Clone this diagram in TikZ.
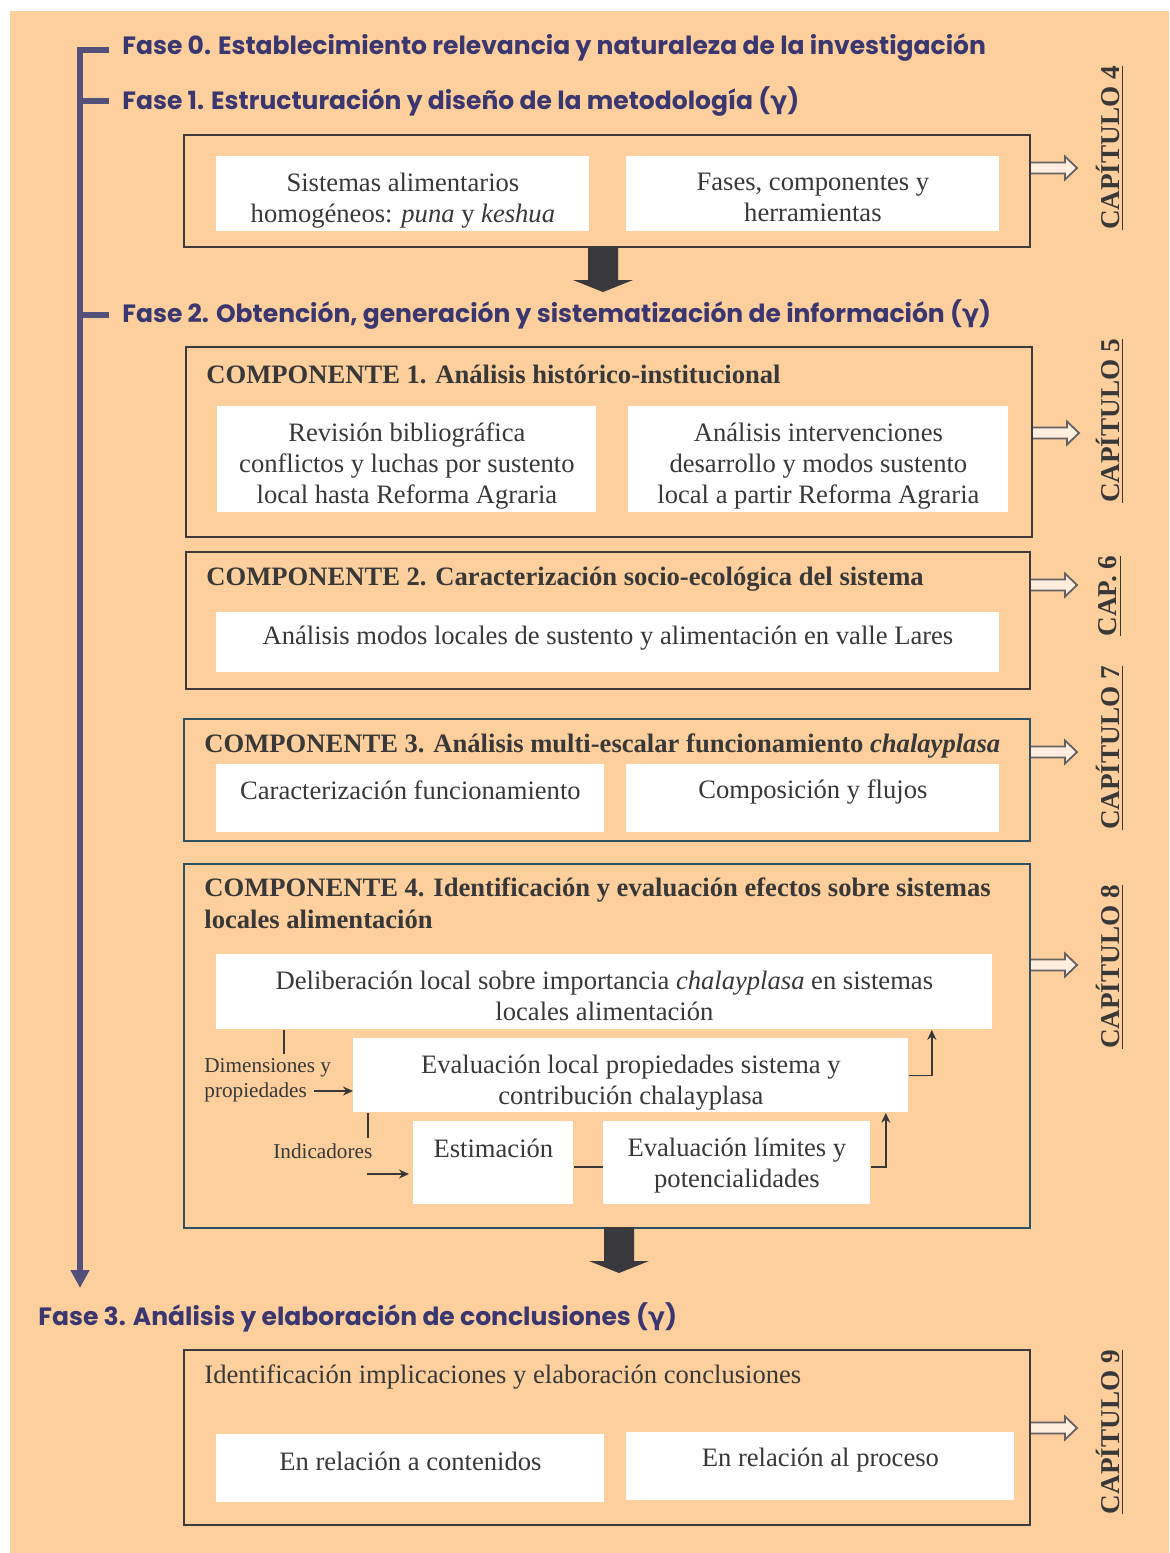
\documentclass[tikz,border=0pt]{standalone}
\usepackage{fontspec}
\setmainfont{Liberation Serif}
\newfontfamily\fasefont{Poppins}
\newfontfamily\griega{DejaVu Sans}
\usetikzlibrary{positioning,arrows.meta}
\definecolor{melocoton}{HTML}{FDCF9D}
\definecolor{fasecol}{HTML}{3A366F}
\definecolor{ejecol}{HTML}{54507C}
\definecolor{grisbox}{HTML}{3C3A3C}
\definecolor{tealbox}{HTML}{2D5064}
\definecolor{texto}{HTML}{383838}
\definecolor{oscuro}{HTML}{39383D}
\definecolor{claro}{HTML}{FFEEDD}
\tikzset{
  fase/.style={anchor=base west,inner sep=0pt,text=fasecol,font=\fasefont\bfseries\fontsize{12.5}{15}\selectfont},
  caja/.style={draw=grisbox,line width=1pt,anchor=north west,inner sep=0pt},
  cajateal/.style={caja,draw=tealbox},
  blanca/.style={fill=white,anchor=north west,inner sep=0pt,align=center,text=texto,font=\fontsize{13.3}{15.5}\selectfont},
  titulo/.style={anchor=west,inner sep=0pt,text=texto,font=\bfseries\fontsize{13.3}{16}\selectfont},
  etiqueta/.style={anchor=west,inner sep=0pt,align=left,text=texto,font=\fontsize{10.6}{12.5}\selectfont},
  capitulo/.style={rotate=90,inner sep=0pt,text=texto,font=\bfseries\fontsize{13.6}{15}\selectfont},
  conector/.style={draw=texto,line width=0.8pt},
  flecha/.style={conector,-{Stealth[length=5pt,width=4.5pt]}},
  eje/.style={draw=ejecol,line width=3pt}
}
\newcommand{\subir}[2]{\raisebox{#1}[\height][\depth]{#2}}
\newcommand{\bajar}[1]{\rule{0pt}{#1}}
\newcommand{\gam}{({\griega γ})}
% flecha gruesa hacia abajo
\newcommand{\flechagorda}[1]{\fill[oscuro] (#1) ++(-15,0) -- ++(0,34) -- ++(-15,0) -- ++(30,12) -- ++(30,-12) -- ++(-15,0) -- ++(0,-34) -- cycle;}
% flecha hueca hacia el capitulo
\newcommand{\flechacap}[1]{\filldraw[fill=claro,draw=grisbox!80,line width=0.9pt] (#1) ++(0,-5.5) -- ++(34,0) -- ++(0,-6) -- ++(12,11.5) -- ++(-12,11.5) -- ++(0,-6) -- ++(-34,0);}
\begin{document}
\begin{tikzpicture}[x=0.5pt,y=-0.5pt]
\useasboundingbox (0,0) rectangle (1169,1553);
\fill[white] (0,0) rectangle (1169,1553);
\fill[melocoton] (10,11) rectangle (1169,1553);

% fases
\node[fase] (fase0) at (122,54) {Fase 0. Establecimiento relevancia y naturaleza de la investigación};
\node[fase] (fase1) at (122,109) {Fase 1. Estructuración y diseño de la metodología \gam};
\node[fase] (fase2) at (122,322) {Fase 2. Obtención, generación y sistematización de información \gam};
\node[fase] (fase3) at (38,1325) {Fase 3. Análisis y elaboración de conclusiones \gam};

% eje vertical
\coordinate (eje0) at (109,50);
\coordinate (eje1) at (109,101);
\coordinate (eje2) at (109,315);
\coordinate (ejefin) at (80,1288);
\draw[eje,-{Triangle[length=9pt,width=9pt]}] (eje0) -- (80,50) -- (ejefin);
\draw[eje] (eje1) -- (80,101);
\draw[eje] (eje2) -- (80,315);

% fase 1
\node[caja,minimum width=423pt,minimum height=56pt] (caja1) at (183,134) {};
\node[blanca,minimum width=186.5pt,minimum height=37.5pt] (sistemas) at (216,156) {\bajar{16pt}Sistemas alimentarios\\homogéneos: \textit{puna} y \textit{keshua}};
\node[blanca,minimum width=186.5pt,minimum height=37.5pt] (fases) at (626,156) {\bajar{12.5pt}Fases, componentes y\\herramientas};
\flechagorda{603,246}

% componente 1
\node[caja,minimum width=423pt,minimum height=95pt] (comp1) at (185,346) {};
\node[titulo] (tit1) at (206,374) {COMPONENTE 1. Análisis histórico-institucional};
\node[blanca,minimum width=189.5pt,minimum height=53pt] (revision) at (217,406) {\bajar{16pt}Revisión bibliográfica\\conflictos y luchas por sustento\\local hasta Reforma Agraria};
\node[blanca,minimum width=190pt,minimum height=53pt] (interv) at (628,406) {\bajar{16pt}Análisis intervenciones\\desarrollo y modos sustento\\local a partir Reforma Agraria};

% componente 2
\node[caja,minimum width=422pt,minimum height=68.5pt] (comp2) at (185,551) {};
\node[titulo] (tit2) at (206,579) {COMPONENTE 2. Caracterización socio-ecológica del sistema};
\node[blanca,minimum width=391.5pt,minimum height=30pt] (modos) at (216,612) {\subir{2pt}{Análisis modos locales de sustento y alimentación en valle Lares}};

% componente 3
\node[cajateal,minimum width=423pt,minimum height=61pt] (comp3) at (183,718) {};
\node[titulo] (tit3) at (204,746) {COMPONENTE 3. Análisis multi-escalar funcionamiento \textit{chalayplasa}};
\node[blanca,minimum width=194pt,minimum height=34pt] (caract) at (216,764) {\subir{4pt}{Caracterización funcionamiento}};
\node[blanca,minimum width=186.5pt,minimum height=34pt] (compos) at (626,764) {\subir{3pt}{Composición y flujos}};

% componente 4
\node[cajateal,minimum width=423pt,minimum height=182pt] (comp4) at (183,863) {};
\node[titulo,anchor=north west,align=left] (tit4) at (204,877) {COMPONENTE 4. Identificación y evaluación efectos sobre sistemas\\locales alimentación};
\node[blanca,minimum width=388pt,minimum height=37.5pt] (delib) at (216,954) {\bajar{13pt}Deliberación local sobre importancia \textit{chalayplasa} en sistemas\\locales alimentación};
\node[blanca,minimum width=277.5pt,minimum height=37pt] (evalua) at (353,1038) {\bajar{16.5pt}Evaluación local propiedades sistema y\\contribución chalayplasa};
\node[blanca,minimum width=80pt,minimum height=41.5pt] (estim) at (413,1121) {\subir{7.5pt}{Estimación}};
\node[blanca,minimum width=133.5pt,minimum height=41.5pt] (limites) at (603,1121) {\bajar{12pt}Evaluación límites y\\potencialidades};
\node[etiqueta] (dimen) at (204,1080) {Dimensiones y\\propiedades};
\node[etiqueta] (indic) at (273,1151) {Indicadores};
\coordinate (dimfin) at (314,1091);
\coordinate (indfin) at (367,1174);
\draw[conector] ([xshift=34pt]delib.south west) -- ++(0,24);
\draw[flecha] (dimfin) -- (evalua.west |- dimfin);
\draw[conector] ([xshift=7.5pt]evalua.south west) -- ++(0,25);
\draw[flecha] (indfin) -- ([xshift=-2pt]estim.west |- indfin);
\draw[conector] ([yshift=-2pt]estim.east) -- ([yshift=-2pt]limites.west);
\draw[flecha] ([yshift=-2pt]limites.east) -| ([xshift=-11.5pt]evalua.south east);
\draw[flecha] (evalua.east) -| ([xshift=-30.5pt]delib.south east);
\flechagorda{619,1227}

% fase 3
\node[caja,minimum width=423pt,minimum height=87.5pt] (caja3) at (183,1349) {};
\node[anchor=west,inner sep=0pt,text=texto,font=\fontsize{13.3}{15.5}\selectfont] (implic) at (204,1377) {Identificación implicaciones y elaboración conclusiones};
\node[blanca,minimum width=194pt,minimum height=34pt] (conten) at (216,1434) {\subir{3.5pt}{En relación a contenidos}};
\node[blanca,minimum width=194pt,minimum height=34pt] (proceso) at (626,1432) {\subir{3pt}{En relación al proceso}};

% capitulos
\node[capitulo] (cap4) at (1110,148) {\underline{CAPÍTULO 4}};
\node[capitulo] (cap5) at (1110,421) {\underline{CAPÍTULO 5}};
\node[capitulo] (cap6) at (1110,596) {\underline{CAP. 6}};
\node[capitulo] (cap7) at (1110,748) {\underline{CAPÍTULO 7}};
\node[capitulo] (cap8) at (1110,967) {\underline{CAPÍTULO 8}};
\node[capitulo] (cap9) at (1110,1432) {\underline{CAPÍTULO 9}};
\flechacap{caja1.east |- 0,168}
\flechacap{comp1.east |- 0,433}
\flechacap{comp2.east |- 0,585}
\flechacap{comp3.east |- 0,752}
\flechacap{comp4.east |- 0,965}
\flechacap{caja3.east |- 0,1428}
\end{tikzpicture}
\end{document}
